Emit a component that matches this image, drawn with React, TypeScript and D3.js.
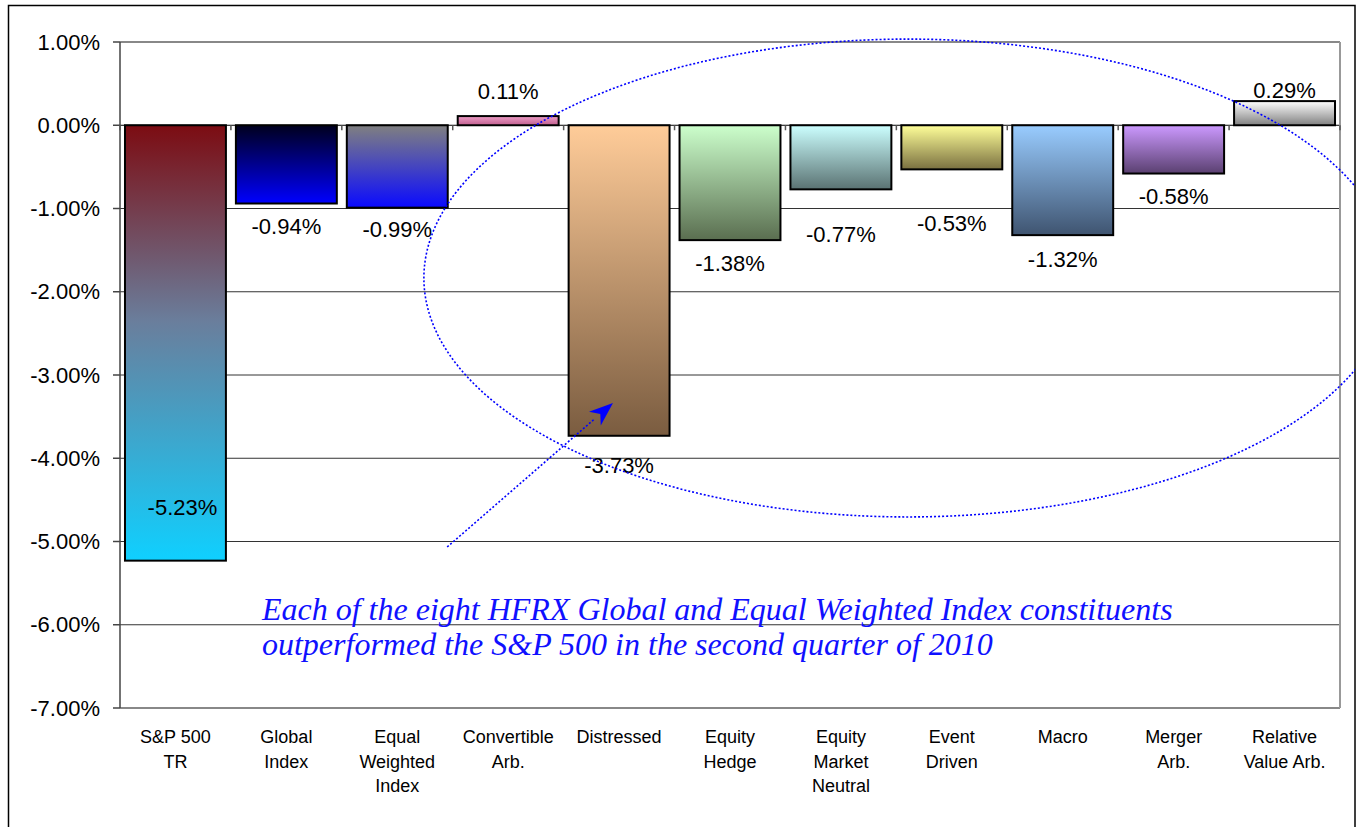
import React from "react";
import * as d3 from "d3";

// ---------- data ----------
const categories: string[][] = [
  ["S&P 500", "TR"],
  ["Global", "Index"],
  ["Equal", "Weighted", "Index"],
  ["Convertible", "Arb."],
  ["Distressed"],
  ["Equity", "Hedge"],
  ["Equity", "Market", "Neutral"],
  ["Event", "Driven"],
  ["Macro"],
  ["Merger", "Arb."],
  ["Relative", "Value Arb."],
];
const values: number[] = [-5.23, -0.94, -0.99, 0.11, -3.73, -1.38, -0.77, -0.53, -1.32, -0.58, 0.29];
const yTicks: number[] = [1, 0, -1, -2, -3, -4, -5, -6, -7];
const noteLines: string[] = [
  "Each of the eight HFRX Global and Equal Weighted Index constituents",
  "outperformed the S&P 500 in the second quarter of 2010",
];

// ---------- styles ----------
const gradTop = ["#7c0c12", "#00001e", "#808080", "#ee9fc8", "#ffcc99", "#ccffcc", "#ccffff", "#ffff99", "#99ccff", "#cc99ff", "#ffffff"];
const gradMid = ["#6a7e9c", null, null, null, null, null, null, null, null, null, null];
const gradBot = ["#0fd0ff", "#0000ff", "#0a0aff", "#c05e8e", "#7a5c40", "#5a6e50", "#5a7272", "#7a7040", "#3f5470", "#5a4070", "#808080"];
// label centre offset from bar end (px) and small x nudge
const labelDy = [-53, 23, 22, -25, 30, 23, 45, 54, 24, 23, -11];
const labelDx = [7, 0, 0, 0, 0, 0, 0, 0, 0, 0, 0];

const W = 1357;
const H = 827;
const plot = { left: 120, right: 1340, top: 42, bottom: 708 };

export default function App() {
  const y = d3.scaleLinear().domain([-7, 1]).range([plot.bottom, plot.top]);
  const idx = categories.map((_, i) => String(i));
  const x = d3
    .scaleBand<string>()
    .domain(idx)
    .range([plot.left, plot.right])
    .paddingInner(0.09)
    .paddingOuter(0.045);
  const step = x.step();
  // continuous position in "category steps" for annotations
  const xs = d3.scaleLinear().domain([0, categories.length]).range([plot.left, plot.right]);
  const y0 = y(0);
  const fmt = (v: number) => v.toFixed(2) + "%";

  // annotation geometry in data space
  const ell = { c: 7.105, v: -1.835, rSteps: 4.365, rVal: 2.87 };
  const arrowFrom = { c: 2.95, v: -5.066 };
  const arrowTo = { c: 4.445, v: -3.335 };
  const ax1 = xs(arrowFrom.c), ay1 = y(arrowFrom.v);
  const ax2 = xs(arrowTo.c), ay2 = y(arrowTo.v);
  const ang = Math.atan2(ay2 - ay1, ax2 - ax1);
  const headLen = 24, headHalf = 9;
  const bx = ax2 - headLen * Math.cos(ang), by = ay2 - headLen * Math.sin(ang);
  const head = [
    [ax2, ay2],
    [bx + headHalf * Math.sin(ang), by - headHalf * Math.cos(ang)],
    [ax2 - 0.7 * headLen * Math.cos(ang), ay2 - 0.7 * headLen * Math.sin(ang)],
    [bx - headHalf * Math.sin(ang), by + headHalf * Math.cos(ang)],
  ];

  return (
    <svg
      width={W}
      height={H}
      style={{ position: "absolute", left: 0, top: 0, background: "#fff" }}
      fontFamily="Arial, 'Liberation Sans', sans-serif"
    >
      <defs>
        {values.map((_, i) => (
          <linearGradient key={i} id={`g${i}`} x1="0" y1="0" x2="0" y2="1">
            <stop offset="0%" stopColor={gradTop[i]} />
            {gradMid[i] && <stop offset="45%" stopColor={gradMid[i]!} />}
            <stop offset="100%" stopColor={gradBot[i]} />
          </linearGradient>
        ))}
        <clipPath id="outer">
          <rect x={8} y={5} width={1347} height={H} />
        </clipPath>
      </defs>
      <rect x={0} y={0} width={W} height={H} fill="#fff" />
      {/* outer border */}
      <rect x={8.5} y={5.5} width={1346.5} height={H + 10} fill="none" stroke="#000" strokeWidth={1.5} />

      {/* gridlines */}
      {yTicks.map((t) => (
        <line
          key={t}
          x1={plot.left}
          x2={plot.right}
          y1={y(t)}
          y2={y(t)}
          stroke={t === 1 || t === -7 ? "#888" : t === 0 ? "#000" : "#333"}
          strokeWidth={t === 1 || t === -7 ? 2 : 1}
        />
      ))}
      {/* plot border right */}
      <line x1={plot.right} x2={plot.right} y1={plot.top} y2={plot.bottom} stroke="#999" strokeWidth={2} />
      {/* y axis */}
      <line x1={plot.left} x2={plot.left} y1={plot.top} y2={plot.bottom} stroke="#444" strokeWidth={1.5} />
      {yTicks.map((t) => (
        <g key={"t" + t}>
          <line x1={plot.left - 7} x2={plot.left} y1={y(t)} y2={y(t)} stroke="#444" strokeWidth={1.5} />
          <text x={100} y={y(t)} dy="0.35em" textAnchor="end" fontSize={22} fill="#000">
            {fmt(t)}
          </text>
        </g>
      ))}

      {/* bars */}
      {values.map((v, i) => {
        const x0 = x(String(i))!;
        const top = Math.min(y(v), y0);
        const h = Math.abs(y(v) - y0);
        return (
          <rect
            key={i}
            x={x0}
            y={top}
            width={x.bandwidth()}
            height={h}
            fill={`url(#g${i})`}
            stroke="#000"
            strokeWidth={2}
          />
        );
      })}

      {/* category ticks on zero line */}
      {d3.range(categories.length + 1).map((i) => (
        <line
          key={"c" + i}
          x1={plot.left + i * step}
          x2={plot.left + i * step}
          y1={y0}
          y2={y0 + 5}
          stroke="#555"
          strokeWidth={1.5}
        />
      ))}

      {/* value labels */}
      {values.map((v, i) => (
        <text
          key={"v" + i}
          x={x(String(i))! + x.bandwidth() / 2 + labelDx[i]}
          y={y(v) + labelDy[i]}
          dy="0.35em"
          textAnchor="middle"
          fontSize={22}
          fill="#000"
        >
          {fmt(v)}
        </text>
      ))}

      {/* category labels */}
      {categories.map((lines, i) => (
        <text
          key={"l" + i}
          x={x(String(i))! + x.bandwidth() / 2}
          y={743}
          textAnchor="middle"
          fontSize={18}
          fill="#000"
        >
          {lines.map((ln, j) => (
            <tspan key={j} x={x(String(i))! + x.bandwidth() / 2} dy={j === 0 ? 0 : 24.5}>
              {ln}
            </tspan>
          ))}
        </text>
      ))}

      {/* annotations */}
      <g clipPath="url(#outer)">
        <ellipse
          cx={xs(ell.c)}
          cy={y(ell.v)}
          rx={xs(ell.rSteps) - xs(0)}
          ry={y(0) - y(ell.rVal)}
          fill="none"
          stroke="#0000ff"
          strokeWidth={1.6}
          strokeDasharray="2 2"
        />
      </g>
      <line x1={ax1} y1={ay1} x2={bx} y2={by} stroke="#0000ff" strokeWidth={1.6} strokeDasharray="2 2" />
      <polygon points={head.map((p) => p.join(",")).join(" ")} fill="#0000ff" />

      {noteLines.map((ln, j) => (
        <text
          key={"n" + j}
          x={xs(1.28)}
          y={y(j === 0 ? -5.94 : -6.36)}
          fontFamily="'Liberation Serif', 'Times New Roman', serif"
          fontStyle="italic"
          fontSize={32}
          fill="#1010ff"
        >
          {ln}
        </text>
      ))}
    </svg>
  );
}
